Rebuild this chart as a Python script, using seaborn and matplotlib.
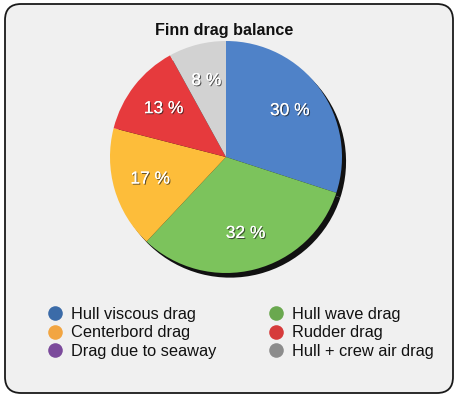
import matplotlib
matplotlib.use("Agg")
import matplotlib.pyplot as plt
import matplotlib.patheffects as pe
from matplotlib.patches import FancyBboxPatch
from matplotlib.lines import Line2D
import seaborn as sns

# ---- data ----
categories = ["Hull viscous drag", "Hull wave drag", "Centerbord drag",
              "Rudder drag", "Drag due to seaway", "Hull + crew air drag"]
values = [30, 32, 17, 13, 0, 8]
slice_colors = ["#4f82c8", "#7cc35c", "#fdbd3a", "#e63a3d", "#7b4a9b", "#d2d2d2"]
legend_colors = ["#3b6ba8", "#6aa84f", "#f2a541", "#d63b3b", "#7b4a9b", "#8c8c8c"]
title = "Finn drag balance"

sns.set_theme(style="white")
plt.rcParams["font.family"] = ["Liberation Sans", "DejaVu Sans"]

fig = plt.figure(figsize=(4.59, 3.97), dpi=100)
fig.patch.set_facecolor("white")

# rounded panel
panel = FancyBboxPatch((5 / 459, 4 / 397), 448 / 459, 389 / 397,
                       boxstyle="round,pad=0,rounding_size=0.035",
                       transform=fig.transFigure, facecolor="#f0f0f0",
                       edgecolor="#1a1a1a", linewidth=1.3, zorder=-10,
                       mutation_aspect=459 / 397)
fig.patches.append(panel)

fig.text(224 / 459, 1 - 31 / 397, title, ha="center", va="center",
         fontsize=11.6, fontweight="bold", color="#111111")

cx, cy, r = 226, 157, 116
lim = 1.06
ax = fig.add_axes([(cx - r * lim) / 459, (397 - cy - r * lim) / 397,
                   2 * r * lim / 459, 2 * r * lim / 397])
ax.set_facecolor("none")
ax.set_zorder(5)

# shadow
ax.pie(values, colors=["#111111"] * len(values), startangle=90, counterclock=False,
       center=(0.035, -0.04), radius=1.0, wedgeprops=dict(linewidth=0))

def fmt(p):
    return "" if p < 0.5 else f"{p:.0f} %"

wedges, texts, autotexts = ax.pie(values, colors=slice_colors, startangle=90,
                                  counterclock=False, autopct=fmt, pctdistance=0.68,
                                  radius=1.0, wedgeprops=dict(linewidth=0))
for t in autotexts:
    t.set_color("white")
    t.set_fontsize(12.5)
    t.set_path_effects([pe.withSimplePatchShadow(offset=(0.8, -0.8),
                                                 shadow_rgbFace="#222222", alpha=0.7),
                        pe.Normal()])
ax.set_xlim(-lim, lim)
ax.set_ylim(-lim, lim)
ax.set_aspect("equal")
ax.axis("off")

# legend, column-major order as in reference
order = [0, 2, 4, 1, 3, 5]
handles = [Line2D([0], [0], marker="o", linestyle="", markersize=10.5,
                  markerfacecolor=legend_colors[i], markeredgewidth=0,
                  label=categories[i]) for i in order]
leg = fig.legend(handles=handles, ncol=2, loc="upper left",
                 bbox_to_anchor=(45 / 459, 1 - 307 / 397), borderaxespad=0,
                 frameon=False, fontsize=11.8, handletextpad=0.4, columnspacing=3.0,
                 labelspacing=0.2, borderpad=0, handlelength=1.2, labelcolor="#111111")
leg.set_zorder(6)

fig.savefig("out.png", dpi=100, facecolor="white")
